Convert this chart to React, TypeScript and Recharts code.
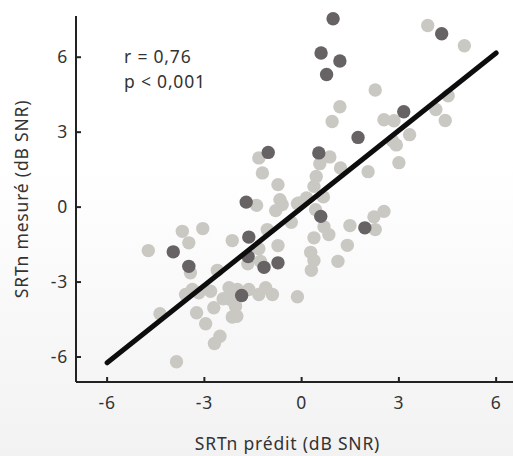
import React from 'react';
import { ScatterChart, Scatter, XAxis, YAxis, Label } from 'recharts';

const lightPoints = [
  { x: -4.73, y: -1.74 }, { x: -3.68, y: -0.97 }, { x: -3.48, y: -1.43 }, { x: -3.05, y: -0.86 },
  { x: -3.43, y: -2.63 }, { x: -2.6, y: -2.53 }, { x: -3.37, y: -3.3 }, { x: -3.58, y: -3.5 },
  { x: -3.17, y: -3.43 }, { x: -2.81, y: -3.37 }, { x: -2.71, y: -4.03 }, { x: -3.24, y: -4.23 },
  { x: -2.24, y: -3.23 }, { x: -2.42, y: -3.67 }, { x: -1.98, y: -3.3 }, { x: -2.04, y: -3.97 },
  { x: -1.63, y: -3.3 }, { x: -1.32, y: -3.5 }, { x: -1.11, y: -3.23 }, { x: -0.9, y: -3.5 },
  { x: -2.0, y: -4.37 }, { x: -2.19, y: -3.7 }, { x: -2.14, y: -4.4 }, { x: -2.96, y: -4.67 },
  { x: -4.37, y: -4.27 }, { x: -2.52, y: -5.17 }, { x: -2.69, y: -5.46 }, { x: -3.86, y: -6.19 },
  { x: -0.13, y: -3.59 }, { x: -2.14, y: -1.34 }, { x: -1.32, y: -1.67 }, { x: -1.06, y: -0.9 },
  { x: -0.73, y: -1.54 }, { x: -1.66, y: -2.27 }, { x: -1.27, y: -2.17 }, { x: -1.39, y: 0.07 },
  { x: -0.67, y: 0.3 }, { x: -0.6, y: 0.1 }, { x: -0.8, y: -0.14 }, { x: -0.08, y: 0.17 },
  { x: 0.15, y: 0.37 }, { x: 0.67, y: 0.41 }, { x: 0.43, y: -0.1 }, { x: -0.32, y: -0.61 },
  { x: 0.69, y: -0.79 }, { x: 0.84, y: -1.1 }, { x: 1.49, y: -0.74 }, { x: 0.38, y: -1.23 },
  { x: -1.32, y: 1.97 }, { x: 0.87, y: 2.01 }, { x: 0.56, y: 1.74 }, { x: 1.2, y: 1.57 },
  { x: -1.21, y: 1.37 }, { x: 0.45, y: 1.23 }, { x: -0.73, y: 0.9 }, { x: 0.38, y: 0.83 },
  { x: 2.05, y: 1.42 }, { x: 0.28, y: -1.81 }, { x: 0.38, y: -2.14 }, { x: 0.3, y: -2.53 },
  { x: 1.41, y: -1.53 }, { x: 1.12, y: -2.17 }, { x: 2.27, y: -0.9 }, { x: 2.23, y: -0.39 },
  { x: 2.54, y: -0.17 }, { x: 3.89, y: 7.27 }, { x: 5.02, y: 6.46 }, { x: 2.27, y: 4.69 },
  { x: 1.18, y: 4.02 }, { x: 0.94, y: 3.43 }, { x: 2.54, y: 3.5 }, { x: 2.85, y: 3.46 },
  { x: 4.14, y: 3.91 }, { x: 4.43, y: 3.47 }, { x: 4.52, y: 4.46 }, { x: 3.33, y: 2.9 },
  { x: 2.8, y: 2.66 }, { x: 2.92, y: 2.49 }, { x: 3.0, y: 1.78 }, { x: -0.13, y: 0.14 },
];

const darkPoints = [
  { x: -1.03, y: 2.19 }, { x: 0.97, y: 7.54 }, { x: 0.6, y: 6.17 }, { x: 1.18, y: 5.85 },
  { x: 0.77, y: 5.31 }, { x: 4.32, y: 6.94 }, { x: 3.15, y: 3.82 }, { x: 1.74, y: 2.79 },
  { x: 0.53, y: 2.17 }, { x: 0.59, y: -0.37 }, { x: 1.95, y: -0.83 }, { x: -1.71, y: 0.2 },
  { x: -3.96, y: -1.79 }, { x: -3.48, y: -2.37 }, { x: -1.63, y: -1.2 }, { x: -1.65, y: -1.98 },
  { x: -1.16, y: -2.41 }, { x: -0.73, y: -2.23 }, { x: -1.85, y: -3.54 },
];

const regressionLine = [
  { x: -6, y: -6.23 },
  { x: 6, y: 6.17 },
];

const xTicks = [-6, -3, 0, 3, 6];
const yTicks = [-6, -3, 0, 3, 6];
const statsLines = ['r = 0,76', 'p < 0,001'];

const FONT = '"Noto Sans", "Open Sans", sans-serif';
const TEXT_COLOR = '#333333';
const FS = 17.5;
const LS = 0.8;

const dot = (fill: string) => (props: any) => (
  <circle cx={props.cx} cy={props.cy} r={6.7} fill={fill} />
);

export default function App() {
  return (
    <div
      style={{
        position: 'fixed',
        left: 0,
        top: 0,
        width: 513,
        height: 456,
        background: 'linear-gradient(#ffffff 0%, #ffffff 35%, #f2f2f2 100%)',
        fontFamily: FONT,
      }}
    >
      <ScatterChart width={513} height={456} margin={{ top: 16, right: 0, left: 0, bottom: 0 }}>
        <XAxis
          type="number"
          dataKey="x"
          domain={[-6.96, 6.52]}
          ticks={xTicks}
          height={74}
          axisLine={{ stroke: '#222', strokeWidth: 2 }}
          tickLine={{ stroke: '#222', strokeWidth: 2 }}
          tickSize={-5}
          tickMargin={20}
          tick={{ fill: TEXT_COLOR, fontSize: FS, fontFamily: FONT, letterSpacing: LS }}
        >
          <Label
            value="SRTn prédit (dB SNR)"
            position="insideBottom"
            offset={6}
            dx={-7}
            style={{ fill: TEXT_COLOR, fontSize: FS, fontFamily: FONT, letterSpacing: LS }}
          />
        </XAxis>
        <YAxis
          type="number"
          dataKey="y"
          domain={[-7, 7.65]}
          ticks={yTicks}
          width={76}
          axisLine={{ stroke: '#222', strokeWidth: 2 }}
          tickLine={{ stroke: '#222', strokeWidth: 2 }}
          tickSize={-5}
          tickMargin={13}
          tick={{ fill: TEXT_COLOR, fontSize: FS, fontFamily: FONT, letterSpacing: LS }}
        >
          <Label
            content={(p: any) => {
              const vb = p.viewBox || { x: 0, y: 16, width: 76, height: 366 };
              const cx = vb.x + 21;
              const cy = vb.y + vb.height / 2;
              return (
                <text
                  x={cx}
                  y={cy}
                  transform={`rotate(-90 ${cx} ${cy})`}
                  textAnchor="middle"
                  dominantBaseline="central"
                  fill={TEXT_COLOR}
                  fontSize={FS}
                  fontFamily={FONT}
                  letterSpacing={LS}
                >
                  SRTn mesuré (dB SNR)
                </text>
              );
            }}
          />
        </YAxis>
        <Scatter data={lightPoints} isAnimationActive={false} shape={dot('#c9c8c3')} />
        <Scatter data={darkPoints} isAnimationActive={false} shape={dot('#676264')} />
        <Scatter
          data={regressionLine}
          isAnimationActive={false}
          line={{ stroke: '#0d0d0d', strokeWidth: 5, strokeLinecap: 'round' }}
          shape={() => <g />}
        />
      </ScatterChart>
      <div
        style={{
          position: 'absolute',
          left: 124,
          top: 44,
          color: TEXT_COLOR,
          fontSize: FS,
          letterSpacing: LS,
          lineHeight: '24.5px',
          fontFamily: FONT,
        }}
      >
        {statsLines.map((s) => (
          <div key={s}>{s}</div>
        ))}
      </div>
    </div>
  );
}
